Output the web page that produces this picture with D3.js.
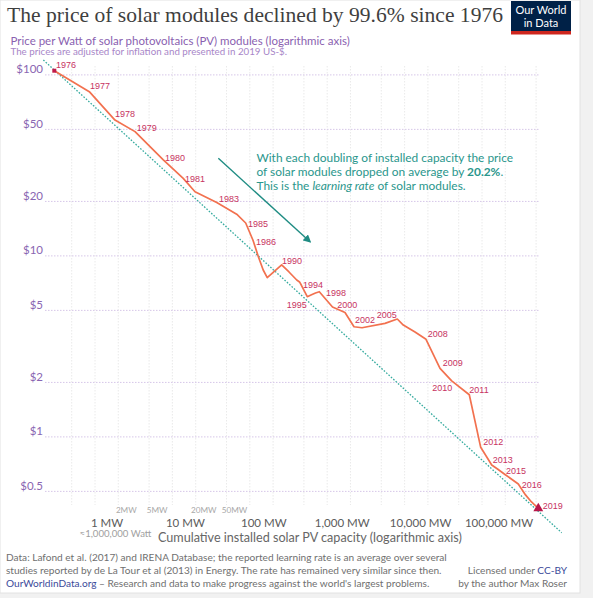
<!DOCTYPE html>
<html><head><meta charset="utf-8">
<script src="https://cdn.jsdelivr.net/npm/d3@7"></script>
<style>
body{margin:0;background:#fff;}
svg{display:block;font-family:Lato, "Noto Sans", sans-serif;}
</style></head><body>
<svg id="chart" width="593" height="598"></svg>
<script>
// ---------- DATA ----------
const years = [1976,1977,1978,1979,1980,1981,1982,1983,1984,1985,1986,1987,1988,1989,1990,1991,1992,1993,1994,1995,1996,1997,1998,1999,2000,2001,2002,2003,2004,2005,2006,2007,2008,2009,2010,2011,2012,2013,2014,2015,2016,2017,2018,2019];
const capacityMW = [0.298,0.844,1.81,3.29,7.63,13.8,19.6,37.4,67.7,88.5,110,129,149,168,258,321,404,439,466,553,627,706,791,965,1171,1698,2220,2816,5582,8049,9620,13630,18900,28680,40600,68540,96200,133500,158600,198200,294400,364800,436000,534000];
const priceUSD = [105.5,80.8,56.3,48.6,33.9,26.8,22.6,19.7,17.0,15.2,12.2,9.9,8.36,7.58,8.91,8.15,7.36,7.18,6.86,5.95,6.10,6.24,6.34,5.74,5.22,4.87,4.06,4.01,4.24,4.48,4.15,3.80,3.46,2.39,2.04,1.71,0.876,0.700,0.665,0.620,0.549,0.478,0.437,0.403];
const labeledYears = [1976,1977,1978,1979,1980,1981,1983,1985,1986,1990,1994,1995,1998,2000,2002,2005,2008,2009,2010,2011,2012,2013,2015,2016,2019];

const priceTicks = [100,50,20,10,5,2,1,0.5];
const priceTickLabels = ["$100","$50","$20","$10","$5","$2","$1","$0.5"];
const capMajorTicks = [1,10,100,1000,10000,100000];
const capMajorLabels = ["1 MW","10 MW","100 MW","1,000 MW","10,000 MW","100,000 MW"];
const capMinorTicks = [2,5,20,50];
const capMinorLabels = ["2MW","5MW","20MW","50MW"];
const capGridValues = [0.5,1,2,5,10,20,50,100,200,500,1000,2000,5000,10000,20000,50000,100000,200000,500000];

// learning-curve trend line (two ends, capacity MW / price $)
const trendCap = [0.215, 1071000];
const trendPrice = [120.9, 0.2956];
// annotation arrow (capacity MW / price $)
const arrowCap = [39.2, 600];
const arrowPrice = [34.6, 11.98];

const titleText = "The price of solar modules declined by 99.6% since 1976";
const subtitleText = "Price per Watt of solar photovoltaics (PV) modules (logarithmic axis)";
const subtitle2Text = "The prices are adjusted for inflation and presented in 2019 US-$.";
const xAxisTitle = "Cumulative installed solar PV capacity (logarithmic axis)";

// ---------- LAYOUT ----------
const svg = d3.select("#chart");
const x = d3.scaleLog().domain([1, 1000]).range([95, 327.2]);
const y = d3.scaleLog().domain([1, 100]).range([436.9, 74.9]);

// year label placement [dx, dy, anchor]
const labelOffsets = {
  1976:[1.7,-2.7,"start"],1977:[0.7,-2.7,"start"],1978:[0,-3,"start"],1979:[1.7,-0.7,"start"],
  1980:[1.7,1,"start"],1981:[1.7,3.7,"start"],1983:[2.3,-0.7,"start"],1985:[2.3,4,"start"],
  1986:[3,5,"start"],1990:[0.3,-1,"start"],1994:[1.5,2.2,"start"],1995:[-0.6,11,"end"],
  1998:[6.7,4,"start"],2000:[4.8,0.7,"start"],2002:[1,-3.4,"start"],2005:[-0.6,-1.3,"end"],
  2008:[1.7,-2,"start"],2009:[2.7,-2.3,"start"],2010:[0.6,10,"end"],2011:[0,-1.5,"start"],
  2012:[2.6,-2.3,"start"],2013:[1,-1.7,"start"],2015:[1,-0.5,"start"],2016:[3.4,3.7,"start"],
  2019:[4.4,0.7,"start"]
};

// card background & border
svg.append("rect").attr("x",0).attr("y",0).attr("width",593).attr("height",598).attr("fill","#f1f1f1");
svg.append("rect").attr("x",0).attr("y",0).attr("width",580).attr("height",593).attr("fill","#fff")
  .attr("stroke","#e2e2e2").attr("stroke-width",1);

// Title
svg.append("text").attr("x",7).attr("y",22).text(titleText)
  .attr("font-family","'Liberation Serif', 'DejaVu Serif', serif").attr("font-size",21.8)
  .attr("fill","#3f3f3f").attr("textLength",496).attr("lengthAdjust","spacingAndGlyphs");

// Logo
const logo = svg.append("g");
logo.append("rect").attr("x",511).attr("y",1).attr("width",60).attr("height",33).attr("fill","#002147");
logo.append("rect").attr("x",511).attr("y",31).attr("width",60).attr("height",3.5).attr("fill","#ce261e");
logo.append("text").attr("x",541).attr("y",13.5).attr("text-anchor","middle").attr("fill","#fff")
  .attr("font-size",11).text("Our World");
logo.append("text").attr("x",541).attr("y",26.5).attr("text-anchor","middle").attr("fill","#fff")
  .attr("font-size",11).text("in Data");

// Subtitles
svg.append("text").attr("x",10.5).attr("y",44.5).attr("font-size",11.5).attr("fill","#8a5fb0").text(subtitleText);
svg.append("text").attr("x",10.5).attr("y",55).attr("font-size",9.75).attr("fill","#a886c8").text(subtitle2Text);

// Gridlines
svg.append("g").selectAll("line").data(capGridValues).join("line")
  .attr("x1",d=>x(d)).attr("x2",d=>x(d)).attr("y1",66).attr("y2",505)
  .attr("stroke","#e4e4e4").attr("stroke-width",0.8).attr("stroke-dasharray","1.5,1.5");
svg.append("g").selectAll("line").data(priceTicks).join("line")
  .attr("x1",45).attr("x2",540).attr("y1",d=>y(d)).attr("y2",d=>y(d))
  .attr("stroke","#d6c6e8").attr("stroke-width",1).attr("stroke-dasharray","1.5,1.5");

// Y tick labels
svg.append("g").selectAll("text").data(priceTicks).join("text")
  .attr("x",43).attr("y",d=>y(d)-1.5).attr("text-anchor","end")
  .attr("font-size",11.5).attr("fill","#8a66b2").text((d,i)=>priceTickLabels[i]);

// X tick labels
svg.append("g").selectAll("text").data(capMajorTicks).join("text")
  .attr("x",d=>x(d)+12+Math.log10(d)).attr("y",526.5).attr("text-anchor","middle")
  .attr("font-size",11.5).attr("fill","#5b5b5b").text((d,i)=>capMajorLabels[i]);
svg.append("g").selectAll("text").data(capMinorTicks).join("text")
  .attr("x",d=>x(d)+8).attr("y",512.5).attr("text-anchor","middle")
  .attr("font-size",8.2).attr("fill","#a8a8a8").text((d,i)=>capMinorLabels[i]);
svg.append("text").attr("x",x(1)+20.5).attr("y",536.5).attr("text-anchor","middle")
  .attr("font-size",9.6).attr("fill","#a0a0a0").text("≈1,000,000 Watt");
svg.append("text").attr("x",158).attr("y",541.5).attr("font-size",12.6).attr("fill","#666").text(xAxisTitle);

// Trend line (learning curve)
svg.append("line")
  .attr("x1",x(trendCap[0])).attr("y1",y(trendPrice[0]))
  .attr("x2",x(trendCap[1])).attr("y2",y(trendPrice[1]))
  .attr("stroke","#36ab9f").attr("stroke-width",1.3).attr("stroke-dasharray","1.6,1.6");

// Arrow
const defs = svg.append("defs");
defs.append("marker").attr("id","arrowhead").attr("viewBox","0 0 10 10").attr("refX",8).attr("refY",5)
  .attr("markerWidth",8).attr("markerHeight",8).attr("orient","auto-start-reverse").attr("markerUnits","userSpaceOnUse")
  .append("path").attr("d","M0,0 L10,5 L0,10 Z").attr("fill","#1f8c83");
svg.append("line")
  .attr("x1",x(arrowCap[0])).attr("y1",y(arrowPrice[0]))
  .attr("x2",x(arrowCap[1])).attr("y2",y(arrowPrice[1]))
  .attr("stroke","#1f8c83").attr("stroke-width",1.4).attr("marker-end","url(#arrowhead)");

// Annotation
const ann = svg.append("text").attr("font-size",11.9).attr("fill","#2a968c");
ann.append("tspan").attr("x",256.5).attr("y",161.7).text("With each doubling of installed capacity the price");
const l2 = ann.append("tspan").attr("x",256.5).attr("y",175.8);
l2.append("tspan").text("of solar modules dropped on average by ");
l2.append("tspan").attr("font-weight","bold").text("20.2%");
l2.append("tspan").text(".");
const l3 = ann.append("tspan").attr("x",256.5).attr("y",189.9);
l3.append("tspan").text("This is the ");
l3.append("tspan").attr("font-style","italic").text("learning rate");
l3.append("tspan").text(" of solar modules.");

// Price line
const pts = years.map((yr,i)=>({year:yr, cap:capacityMW[i], price:priceUSD[i]}));
svg.append("path").datum(pts)
  .attr("d", d3.line().x(d=>x(d.cap)).y(d=>y(d.price)))
  .attr("fill","none").attr("stroke","#f2714f").attr("stroke-width",1.7).attr("stroke-linejoin","round");

// markers
const first = pts[0], last = pts[pts.length-1];
svg.append("rect").attr("x",x(first.cap)-2).attr("y",y(first.price)-2).attr("width",4).attr("height",4).attr("fill","#c01a4a");
svg.append("path").attr("d",d3.symbol(d3.symbolTriangle,42)())
  .attr("transform",`translate(${x(last.cap)},${y(last.price)})`).attr("fill","#b8174a");

// Year labels
svg.append("g").selectAll("text").data(pts.filter(d=>labeledYears.includes(d.year))).join("text")
  .attr("x",d=>x(d.cap)+labelOffsets[d.year][0]).attr("y",d=>y(d.price)+labelOffsets[d.year][1])
  .attr("text-anchor",d=>labelOffsets[d.year][2])
  .attr("font-family","'Liberation Sans', Arial, sans-serif").attr("font-size",9).attr("fill","#c7335f")
  .text(d=>d.year);

// Footer
const foot = svg.append("g").attr("font-size",10.1).attr("fill","#6f6f6f");
foot.append("text").attr("x",6).attr("y",561).text("Data: Lafond et al. (2017) and IRENA Database; the reported learning rate is an average over several");
foot.append("text").attr("x",6).attr("y",574).text("studies reported by de La Tour et al (2013) in Energy. The rate has remained very similar since then.");
const f3 = foot.append("text").attr("x",6).attr("y",587);
f3.append("tspan").attr("fill","#3b4a9a").text("OurWorldinData.org");
f3.append("tspan").text(" – Research and data to make progress against the world's largest problems.");
const r1 = foot.append("text").attr("x",567).attr("y",574).attr("text-anchor","end");
r1.append("tspan").text("Licensed under ");
r1.append("tspan").attr("fill","#3b4a9a").text("CC-BY");
foot.append("text").attr("x",567).attr("y",587).attr("text-anchor","end").text("by the author Max Roser");
</script>
</body></html>
